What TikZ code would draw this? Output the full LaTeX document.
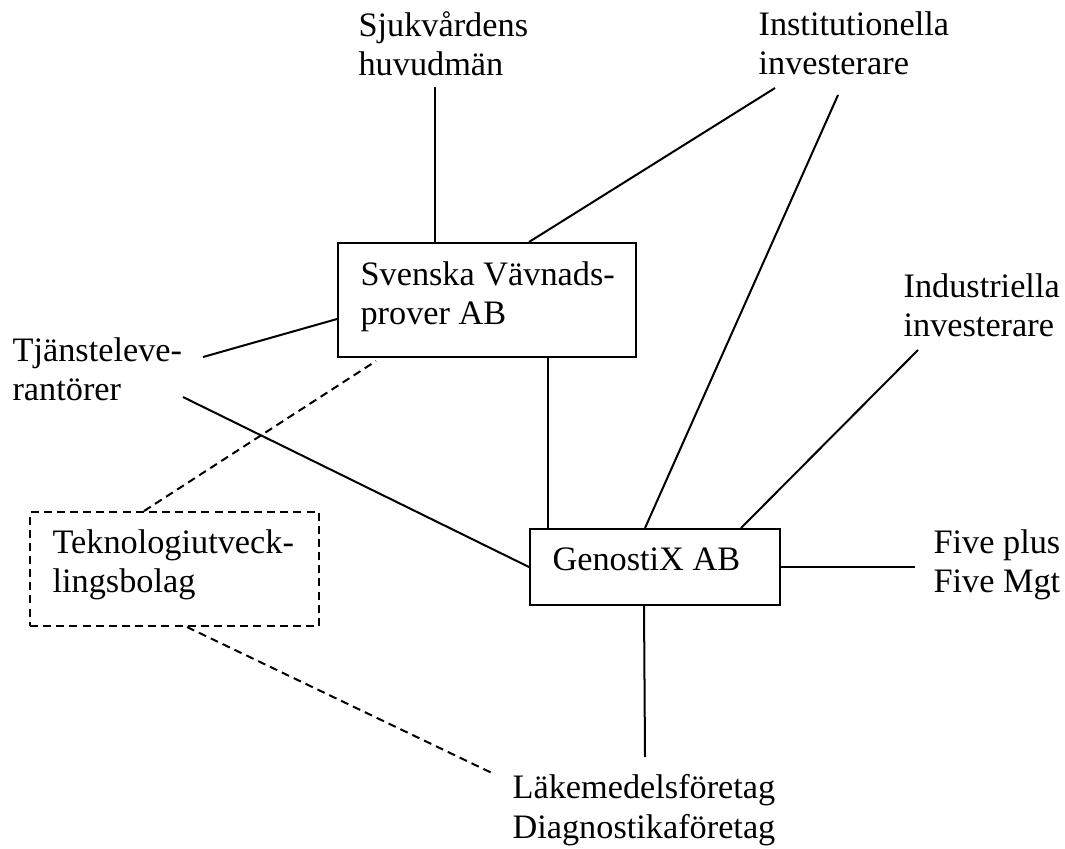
\documentclass[tikz,border=0pt]{standalone}
\usepackage{fontspec}
\setmainfont{Liberation Serif}
\usetikzlibrary{positioning,calc,fit}

\tikzset{
  lbl/.style={anchor=north west, inner sep=0pt, align=left,
    font=\fontsize{12}{13.8}\selectfont},
  orgbox/.style={draw, line width=0.7pt, inner sep=0pt},
  conn/.style={line width=0.7pt},
  weak/.style={line width=0.7pt, dash pattern=on 2.8pt off 1.8pt},
}

\begin{document}
\begin{tikzpicture}[x=0.35pt, y=-0.35pt]
  \useasboundingbox (0,0) rectangle (1065,848);

  % boxes
  \node[orgbox, fit={(338,243) (636,357)}] (sva) {};
  \node[orgbox, fit={(530,529) (780,605)}] (gen) {};
  \node[orgbox, weak, fit={(30,512) (319,626)}] (tek) {};

  % texts
  \node[lbl] (svatxt) at (360,261) {Svenska Vävnads-\\prover AB};
  \node[lbl] (gentxt) at (552,547) {GenostiX AB};
  \node[lbl] (tektxt) at (52,529) {Teknologiutveck-\\lingsbolag};
  \node[lbl] (sjuk) at (358,11) {Sjukvårdens\\huvudmän};
  \node[lbl] (inst) at (758,11) {Institutionella\\investerare};
  \node[lbl] (ind) at (903,273) {Industriella\\investerare};
  \node[lbl] (tjl) at (12,337) {Tjänsteleve-\\rantörer};
  \node[lbl] (five) at (933,529) {Five plus\\Five Mgt};
  \node[lbl] (lak) at (512,774) {Läkemedelsföretag\\Diagnostikaföretag};

  % free ends of the lines
  \coordinate (sjukA) at (435,87);
  \coordinate (instA) at (775,88);
  \coordinate (instB) at (838,95);
  \coordinate (indA) at (918,350);
  \coordinate (tjA) at (203,357);
  \coordinate (tjB) at (183,397);
  \coordinate (fiveA) at (915,567);
  \coordinate (lakA) at (645,757);
  \coordinate (lakB) at (492,773);
  \coordinate (svaB) at (376,361);

  % solid links
  \draw[conn] (sjukA) -- (sjukA |- sva.north);
  \draw[conn] (instA) -- ($(sva.north west)+(192,0)$);
  \draw[conn] (instB) -- ($(gen.north west)+(116,0)$);
  \draw[conn] (indA) -- ($(gen.north west)+(212,0)$);
  \draw[conn] (tjA) -- ($(sva.north west)+(0,77)$);
  \draw[conn] (tjB) -- (gen.west);
  \draw[conn] ($(sva.south west)+(211,0)$) -- ($(gen.north west)+(19,0)$);
  \draw[conn] (gen.east) -- (fiveA);
  \draw[conn] ($(gen.south west)+(115,0)$) -- (lakA);

  % dashed links
  \draw[weak] ($(tek.north west)+(115,0)$) -- (svaB);
  \draw[weak] ($(tek.south west)+(158,0)$) -- (lakB);
\end{tikzpicture}
\end{document}
